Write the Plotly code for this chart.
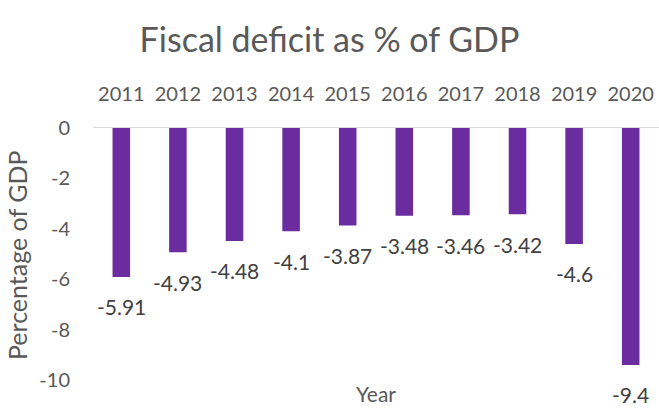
import plotly.graph_objects as go

# Fiscal deficit figures, % of GDP
years = [2011, 2012, 2013, 2014, 2015, 2016, 2017, 2018, 2019, 2020]
deficit = [-5.91, -4.93, -4.48, -4.1, -3.87, -3.48, -3.46, -3.42, -4.6, -9.4]

y_tick_vals = [0, -2, -4, -6, -8, -10]
y_tick_text = ["0", "-2", "-4", "-6", "-8", "-10"]

FONT = "Lato"
BAR = "#6A2C9E"
GREY = "#595959"
LABEL = "#404040"

fig = go.Figure(
    go.Bar(
        x=years,
        y=deficit,
        marker=dict(color=BAR, line=dict(width=0)),
        width=0.31,
        hoverinfo="x+y",
    )
)

# value labels sit under the end of each bar
for yr, v in zip(years, deficit):
    fig.add_annotation(
        x=yr, y=v, xref="x", yref="y",
        text=str(v), showarrow=False,
        yanchor="middle", yshift=-30,
        font=dict(family=FONT, size=21, color=LABEL),
    )

# axis titles
fig.add_annotation(
    text="Year", xref="paper", yref="paper", x=0.5, y=-13 / 252,
    xanchor="center", yanchor="middle", showarrow=False,
    font=dict(family=FONT, size=21, color=GREY),
)
fig.add_annotation(
    text="Percentage of GDP", xref="paper", yref="paper", x=-76 / 566, y=0.496,
    xanchor="center", yanchor="middle", textangle=-90, showarrow=False,
    font=dict(family=FONT, size=25, color=GREY),
)

fig.update_layout(
    width=659, height=408,
    margin=dict(l=93, r=0, t=128, b=28),
    paper_bgcolor="white", plot_bgcolor="white",
    showlegend=False,
    title=dict(
        text="Fiscal deficit as % of GDP",
        x=0.5, xanchor="center", y=1 - 40 / 408, yanchor="middle",
        font=dict(family=FONT, size=34, color=GREY),
    ),
    xaxis=dict(
        type="linear", range=[2010.5, 2020.5],
        tickmode="array", tickvals=years, ticktext=[str(y) for y in years],
        side="top", showgrid=False, zeroline=False,
        showline=True, linecolor="#d9d9d9", linewidth=1,
        ticks="outside", ticklen=18, tickcolor="rgba(0,0,0,0)",
        tickfont=dict(family=FONT, size=20, color=GREY),
    ),
    yaxis=dict(
        range=[-10, 0], showgrid=False, zeroline=False, showline=False,
        tickmode="array", tickvals=y_tick_vals, ticktext=y_tick_text,
        ticks="outside", ticklen=18, tickcolor="rgba(0,0,0,0)",
        tickfont=dict(family=FONT, size=20, color=GREY),
    ),
)

fig.write_html("out.html")
